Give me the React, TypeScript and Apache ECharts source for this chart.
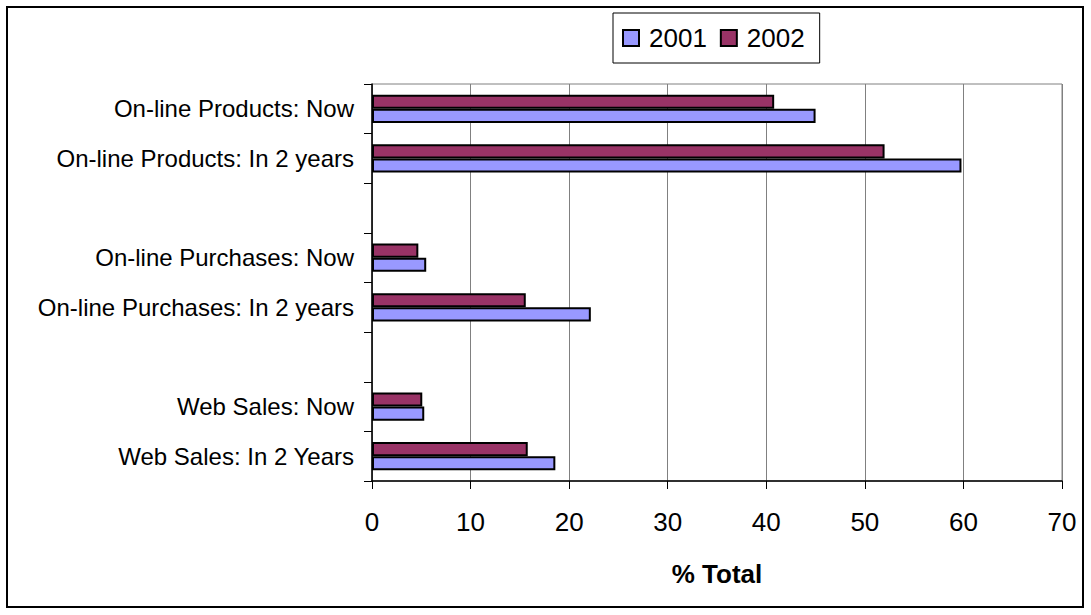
import React, { useEffect, useRef } from "react";
import * as echarts from "echarts";

const categories = [
  "Web Sales: In 2 Years",
  "Web Sales: Now",
  " ",
  "On-line Purchases: In 2 years",
  "On-line Purchases: Now",
  "  ",
  "On-line Products: In 2 years",
  "On-line Products: Now",
];
const values2001 = [18.6, 5.3, null, 22.2, 5.5, null, 59.8, 45.0];
const values2002 = [15.8, 5.1, null, 15.6, 4.7, null, 52.0, 40.8];
const xTicks = [0, 10, 20, 30, 40, 50, 60, 70];

const FONT = "'Liberation Sans', Arial, sans-serif";

export default function App() {
  const ref = useRef<HTMLDivElement>(null);
  useEffect(() => {
    const chart = echarts.init(ref.current!, null, { renderer: "svg" });
    chart.setOption({
      animation: false,
      backgroundColor: "#ffffff",
      textStyle: { fontFamily: FONT },
      graphic: [
        {
          type: "rect",
          shape: { x: 7, y: 7, width: 1076, height: 600 },
          style: { fill: "none", stroke: "#000", lineWidth: 2 },
          z: 100,
        },
      ],
      legend: {
        left: 613,
        top: 13,
        orient: "horizontal",
        padding: [12, 15, 12, 9],
        borderColor: "#000",
        borderWidth: 1,
        itemWidth: 16,
        itemHeight: 16,
        itemGap: 13,
        icon: "rect",
        textStyle: {
          fontFamily: FONT,
          fontSize: 26,
          color: "#000",
          lineHeight: 26,
          padding: [0, 0, 0, 5],
        },
        data: ["2001", "2002"],
      },
      grid: {
        left: 372,
        right: 29,
        top: 84,
        bottom: 134,
        show: true,
        borderColor: "#808080",
        borderWidth: 1,
      },
      xAxis: {
        type: "value",
        min: xTicks[0],
        max: xTicks[xTicks.length - 1],
        interval: 10,
        name: "% Total",
        nameLocation: "middle",
        nameGap: 80,
        nameTextStyle: { fontFamily: FONT, fontSize: 26, fontWeight: "bold", color: "#000" },
        axisLine: { show: true, lineStyle: { color: "#000", width: 1.5 } },
        axisTick: { show: true, length: 8, lineStyle: { color: "#000" } },
        axisLabel: { fontFamily: FONT, fontSize: 26, color: "#000", margin: 28 },
        splitLine: { show: true, lineStyle: { color: "#808080", width: 1 } },
      },
      yAxis: {
        type: "category",
        data: categories,
        axisLine: { show: true, lineStyle: { color: "#000", width: 1.5 } },
        axisTick: { show: true, length: 8, lineStyle: { color: "#000" } },
        axisLabel: { fontFamily: FONT, fontSize: 24, color: "#000", margin: 18 },
        splitLine: { show: false },
      },
      series: [
        {
          name: "2002",
          type: "bar",
          data: values2002,
          barGap: "0%",
          barCategoryGap: "43%",
          itemStyle: { color: "#993366", borderColor: "#000", borderWidth: 2 },
        },
        {
          name: "2001",
          type: "bar",
          data: values2001,
          barGap: "0%",
          barCategoryGap: "43%",
          itemStyle: { color: "#9999FF", borderColor: "#000", borderWidth: 2 },
        },
      ],
    });
    return () => chart.dispose();
  }, []);
  return (
    <div
      ref={ref}
      style={{ position: "absolute", left: 0, top: 0, width: 1091, height: 615 }}
    />
  );
}
